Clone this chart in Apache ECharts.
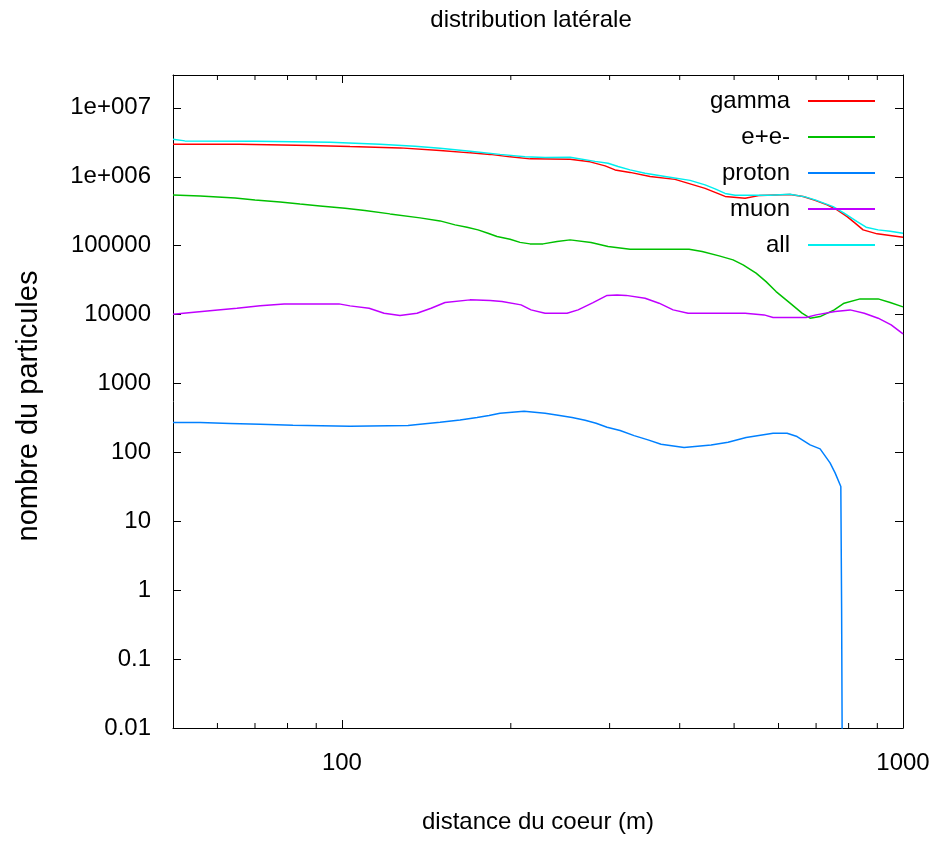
<!DOCTYPE html>
<html><head><meta charset="utf-8">
<script src="https://cdn.jsdelivr.net/npm/echarts@6/dist/echarts.min.js"></script>
<style>html,body{margin:0;padding:0;background:#fff}#c{width:940px;height:841px}</style>
</head><body><div id="c"></div>
<script>
const titleText = 'distribution latérale';
const xAxisName = 'distance du coeur (m)';
const yAxisName = 'nombre du particules';
const seriesNames = ['gamma', 'e+e-', 'proton', 'muon', 'all'];
const seriesColors = ['#ff0000', '#00c000', '#0080ff', '#c000ff', '#00eeee'];
const xMin = 50, xMax = 1000;
const yMin = 0.01, yMax = 3e7;
const xMinorTicks = [60, 70, 80, 90, 200, 300, 400, 500, 600, 700, 800, 900];

const gammaX = [50, 65.8, 87.7, 103.4, 126.9, 149.6, 169.2, 183.7, 199.4, 216.4, 255.1, 276.9, 294.5, 306.8, 326.3, 354.2, 392.4, 417.4, 443.9, 462.5, 481.9, 523.1, 556.2, 629.1, 663.6, 697.1, 732.3, 763.1, 795.0, 821.6, 849.0, 899.3, 1000];
const gammaY = [2.97e6, 2.97e6, 2.855e6, 2.744e6, 2.627e6, 2.416e6, 2.223e6, 2.114e6, 1.945e6, 1.819e6, 1.80e6, 1.646e6, 1.44e6, 1.259e6, 1.158e6, 1.013e6, 9.17e5, 7.89e5, 6.79e5, 5.94e5, 5.19e5, 4.89e5, 5.37e5, 5.55e5, 5.16e5, 4.545e5, 3.91e5, 3.31e5, 2.645e5, 2.121e5, 1.696e5, 1.484e5, 1.328e5];

const eeX = [50, 55.9, 64.5, 70.0, 77.6, 84.2, 91.4, 101.3, 109.9, 121.8, 137.8, 149.6, 159.1, 167.1, 174.8, 182.1, 189.0, 199.4, 207.7, 216.4, 228.3, 241.8, 255.1, 278.0, 298.1, 326.3, 415.7, 438.5, 470.2, 497.9, 518.8, 547.2, 570.1, 594.0, 629.1, 660.8, 683.0, 711.6, 754.0, 785.3, 838.6, 903.0, 948.6, 1000];
const eeY = [5.46e5, 5.28e5, 4.94e5, 4.62e5, 4.32e5, 4.04e5, 3.78e5, 3.48e5, 3.25e5, 2.894e5, 2.532e5, 2.29e5, 2.004e5, 1.856e5, 1.696e5, 1.518e5, 1.356e5, 1.243e5, 1.117e5, 1.062e5, 1.062e5, 1.147e5, 1.214e5, 1.109e5, 9.7e4, 8.9e4, 8.9e4, 8.21e4, 7.11e4, 6.22e4, 5.26e4, 3.99e4, 3.01e4, 2.157e4, 1.464e4, 1.048e4, 8.87e3, 9.35e3, 1.17e4, 1.464e4, 1.69e4, 1.69e4, 1.494e4, 1.294e4];

const protonX = [50, 55.9, 63.2, 71.5, 81.8, 103.4, 131.2, 137.8, 149.6, 162.4, 174.1, 182.9, 191.3, 211.2, 230.2, 242.8, 257.2, 271.3, 283.8, 296.9, 313.2, 331.7, 351.2, 370.5, 407.2, 455.0, 487.8, 525.3, 586.7, 621.5, 647.4, 683.0, 711.6, 741.3, 756.8, 774.8, 777.3, 779.8];
const protonY = [270.7, 270.7, 263.6, 256.6, 248.2, 240, 246.6, 256.6, 274.4, 296.2, 320, 342, 370.7, 396.3, 370.7, 346.7, 320, 293.3, 265.3, 232.1, 207.3, 175.3, 151.8, 131.5, 117.4, 128.5, 140.7, 164, 190, 190, 169.6, 128.5, 112.4, 70.4, 50.4, 31.9, 0.553, 0.001];

const muonX = [50, 54.5, 60.1, 65.0, 71.5, 78.9, 88.5, 98.8, 103.4, 111.8, 118.9, 126.9, 136.1, 144.2, 152.7, 169.2, 183.7, 192.9, 208.6, 217.3, 230.2, 240.8, 251.9, 263.6, 280.3, 296.9, 309.3, 321.0, 347.0, 367.5, 389.3, 414.0, 462.5, 523.1, 565.5, 586.7, 629.1, 671.8, 700.0, 756.8, 805.0, 853.0, 903.0, 952.6, 1000];
const muonY = [1.013e4, 1.083e4, 1.17e4, 1.238e4, 1.338e4, 1.43e4, 1.43e4, 1.43e4, 1.338e4, 1.238e4, 1.048e4, 9.67e3, 1.048e4, 1.238e4, 1.494e4, 1.635e4, 1.607e4, 1.544e4, 1.383e4, 1.17e4, 1.048e4, 1.048e4, 1.048e4, 1.17e4, 1.494e4, 1.9e4, 1.932e4, 1.9e4, 1.73e4, 1.464e4, 1.17e4, 1.048e4, 1.048e4, 1.048e4, 9.9e3, 9.05e3, 9.05e3, 9.05e3, 9.9e3, 1.106e4, 1.17e4, 1.048e4, 8.87e3, 7.09e3, 5.25e3];

const allX = [50, 52.5, 70.0, 95.3, 116.9, 135.0, 149.6, 169.2, 191.3, 212.0, 230.2, 255.1, 282.6, 298.1, 310.6, 326.3, 347.0, 376.7, 417.4, 443.9, 462.5, 481.9, 502.1, 579.6, 629.1, 669.1, 697.1, 750.6, 785.3, 828.4, 859.5, 903.0, 948.6, 1000];
const allY = [3.513e6, 3.319e6, 3.286e6, 3.178e6, 2.972e6, 2.781e6, 2.601e6, 2.353e6, 2.114e6, 1.945e6, 1.9e6, 1.925e6, 1.673e6, 1.575e6, 1.406e6, 1.259e6, 1.128e6, 1.013e6, 8.87e5, 7.63e5, 6.67e5, 5.74e5, 5.41e5, 5.41e5, 5.59e5, 5.11e5, 4.62e5, 3.69e5, 2.96e5, 2.238e5, 1.856e5, 1.696e5, 1.623e5, 1.518e5];

const seriesX = [gammaX, eeX, protonX, muonX, allX];
const seriesY = [gammaY, eeY, protonY, muonY, allY];

const FONT = '"Liberation Sans", Arial, sans-serif';
const FS = 24;

function powLabel(v) {
  const l = Math.log10(v);
  const e = Math.round(l);
  if (Math.abs(l - e) > 1e-6) return '';
  if (e >= 6) return '1e+' + String(e).padStart(3, '0');
  if (e >= 0) return '1' + '0'.repeat(e);
  return '0.' + '0'.repeat(-e - 1) + '1';
}

const chart = echarts.init(document.getElementById('c'), null, {renderer: 'canvas'});

const baseX = {
  type: 'log', logBase: 10, min: xMin, max: xMax, splitNumber: 5,
  axisLine: {show: true, lineStyle: {color: '#000', width: 1}},
  axisTick: {show: true, inside: true, length: 8, lineStyle: {color: '#000', width: 1}},
  splitLine: {show: false}, minorTick: {show: false}
};
const baseY = {
  type: 'log', logBase: 10, min: yMin, max: yMax, splitNumber: 10,
  axisLine: {show: true, lineStyle: {color: '#000', width: 1}},
  axisTick: {show: true, inside: true, length: 8, lineStyle: {color: '#000', width: 1}},
  splitLine: {show: false}, minorTick: {show: false}
};

const series = seriesNames.map((name, i) => ({
  name: name,
  type: 'line',
  xAxisIndex: 0, yAxisIndex: 0,
  data: seriesX[i].map((x, j) => [x, seriesY[i][j]]),
  symbol: 'none',
  smooth: false,
  clip: true,
  lineStyle: {color: seriesColors[i], width: 1.5},
  itemStyle: {color: seriesColors[i]},
  z: 3
}));

series.push({
  name: 'minorTicks',
  type: 'custom',
  xAxisIndex: 0, yAxisIndex: 0,
  silent: true,
  clip: false,
  data: xMinorTicks.map(v => [v, yMin]),
  encode: {x: 0, y: 1},
  renderItem: function (params, api) {
    const p = api.coord([api.value(0), api.value(1)]);
    const cs = params.coordSys;
    const len = 5;
    return {
      type: 'group',
      children: [
        {type: 'line', shape: {x1: p[0], y1: cs.y + cs.height, x2: p[0], y2: cs.y + cs.height - len}, style: {stroke: '#000', lineWidth: 1}},
        {type: 'line', shape: {x1: p[0], y1: cs.y, x2: p[0], y2: cs.y + len}, style: {stroke: '#000', lineWidth: 1}}
      ]
    };
  },
  z: 5
});

chart.setOption({
  backgroundColor: '#fff',
  animation: false,
  title: {
    text: titleText,
    left: 531, top: 8, padding: 0,
    textAlign: 'center',
    textStyle: {fontFamily: FONT, fontSize: FS, fontWeight: 'normal', color: '#000'}
  },
  legend: {
    data: seriesNames,
    orient: 'vertical',
    align: 'right',
    right: 65, top: 89, padding: 0,
    icon: 'rect',
    itemWidth: 67, itemHeight: 2, itemGap: 12,
    textStyle: {fontFamily: FONT, fontSize: FS, color: '#000', padding: [0, 13, 0, 0]}
  },
  grid: {left: 173, right: 37, top: 75, bottom: 113, containLabel: false, outerBoundsMode: 'none'},
  xAxis: [
    Object.assign({}, baseX, {
      position: 'bottom',
      name: xAxisName, nameLocation: 'middle', nameGap: 82,
      nameTextStyle: {fontFamily: FONT, fontSize: FS, color: '#000'},
      axisLabel: {show: true, margin: 23, formatter: powLabel, fontFamily: FONT, fontSize: FS, color: '#000', showMinLabel: true, showMaxLabel: true, hideOverlap: false}
    }),
    Object.assign({}, baseX, {position: 'top', axisLabel: {show: false}})
  ],
  yAxis: [
    Object.assign({}, baseY, {
      position: 'left',
      name: yAxisName, nameLocation: 'middle', nameGap: 130, nameRotate: 90,
      nameTextStyle: {fontFamily: FONT, fontSize: 29, color: '#000', padding: [0, 9, 0, 0]},
      axisLabel: {show: true, margin: 22, formatter: powLabel, fontFamily: FONT, fontSize: FS, color: '#000', showMinLabel: true, showMaxLabel: true, hideOverlap: false}
    }),
    Object.assign({}, baseY, {position: 'right', axisLabel: {show: false}})
  ],
  series: series
});
</script>
</body></html>
